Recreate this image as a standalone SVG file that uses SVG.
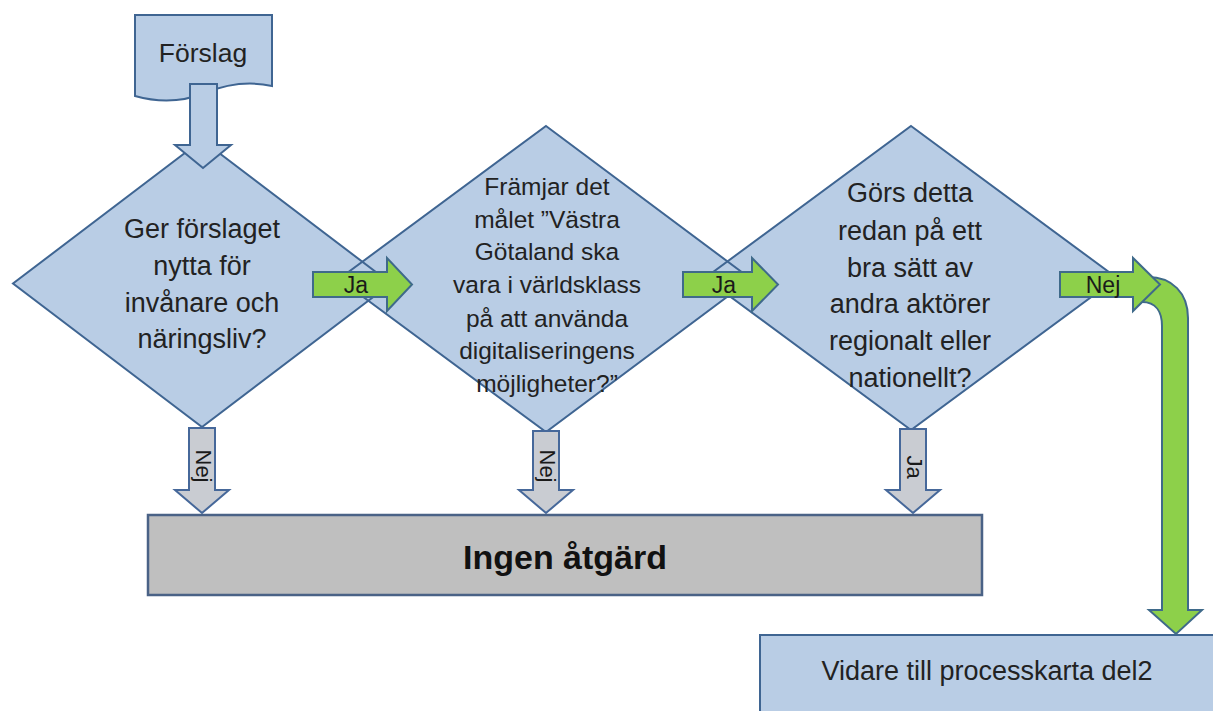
<svg xmlns="http://www.w3.org/2000/svg" xmlns:xlink="http://www.w3.org/1999/xlink" width="1213" height="711" viewBox="0 0 1213 711">
<style>
  .blue { fill: #B9CDE5; stroke: #3F6592; stroke-width: 2; }
  .fillonly { fill: #B9CDE5; stroke: none; }
  .outline { fill: none; stroke: #3F6592; stroke-width: 2; }
  .green { fill: #8DD04A; stroke: #3F6A8A; stroke-width: 2; }
  .grayarrow { fill: #C9CCD2; stroke: #46689A; stroke-width: 2; }
  .grayrect { fill: #BFBFBF; stroke: #4A6286; stroke-width: 2.5; }
  text { font-family: "Liberation Sans", Arial, sans-serif; fill: #222; }
  .q1 { font-size: 27px; text-anchor: middle; }
  .q2 { font-size: 24.5px; text-anchor: middle; }
  .lbl { font-size: 23px; text-anchor: middle; fill: #1a1a1a; }
</style>
<defs>
  <polygon id="d1" points="202,140 391,283.5 202,427 13,283.5"/>
  <polygon id="d2" points="546,126 751,279 546,432 339,279"/>
  <polygon id="d3" points="911,126 1117,278 911,430 705,278"/>
</defs>

<g id="node-forslag">
  <path class="blue" d="M135,15 H272 V86 C245,80 222,86 205,93 C185,101 160,103 135,96 Z"/>
  <text x="203" y="62" style="font-size:26.5px;text-anchor:middle">Förslag</text>
</g>

<g id="node-q1">
  <use xlink:href="#d1" class="fillonly"/>
</g>
<g id="node-q2">
  <use xlink:href="#d2" class="fillonly"/>
</g>
<g id="node-q3">
  <use xlink:href="#d3" class="fillonly"/>
</g>
<g id="diamond-outlines">
  <use xlink:href="#d1" class="outline"/>
  <use xlink:href="#d2" class="outline"/>
  <use xlink:href="#d3" class="outline"/>
</g>

<g id="node-q1-text">
  <text class="q1" x="202" y="238">Ger förslaget</text>
  <text class="q1" x="202" y="275">nytta för</text>
  <text class="q1" x="202" y="312">invånare och</text>
  <text class="q1" x="202" y="348">näringsliv?</text>
</g>
<g id="node-q2-text">
  <text class="q2" x="547" y="195">Främjar det</text>
  <text class="q2" x="547" y="228">målet ”Västra</text>
  <text class="q2" x="547" y="260">Götaland ska</text>
  <text class="q2" x="547" y="293">vara i världsklass</text>
  <text class="q2" x="547" y="327">på att använda</text>
  <text class="q2" x="547" y="359">digitaliseringens</text>
  <text class="q2" x="547" y="392">möjligheter?”</text>
</g>
<g id="node-q3-text">
  <text class="q1" x="910" y="202">Görs detta</text>
  <text class="q1" x="910" y="240">redan på ett</text>
  <text class="q1" x="910" y="277">bra sätt av</text>
  <text class="q1" x="910" y="313">andra aktörer</text>
  <text class="q1" x="910" y="350">regionalt eller</text>
  <text class="q1" x="910" y="387">nationellt?</text>
</g>

<g id="node-ingen">
  <rect class="grayrect" x="148" y="515" width="834" height="80"/>
  <text x="565" y="569" style="font-size:34px;font-weight:bold;text-anchor:middle;fill:#111">Ingen åtgärd</text>
</g>

<g id="node-vidare">
  <rect class="blue" x="760" y="635" width="470" height="90"/>
  <text x="987" y="680" style="font-size:27px;text-anchor:middle">Vidare till processkarta del2</text>
</g>

<g id="connectors">
  <!-- Förslag down arrow -->
  <path class="blue" d="M190,84 H217 V145 H231 L203,168 L175,145 H190 Z"/>
  <!-- gray down arrows -->
  <path class="grayarrow" d="M189,428 H215 V490 H229 L202,513 L175,490 H189 Z"/>
  <path class="grayarrow" d="M533,431 H559 V490 H573 L546,513 L519,490 H533 Z"/>
  <path class="grayarrow" d="M900,429 H926 V490 H940 L913,513 L886,490 H900 Z"/>
  <text class="lbl" transform="translate(196,466) rotate(90)" style="font-size:22px">Nej</text>
  <text class="lbl" transform="translate(540,466) rotate(90)" style="font-size:22px">Nej</text>
  <text class="lbl" transform="translate(907,467) rotate(90)" style="font-size:22px">Ja</text>
  <!-- curved green arrow to Vidare -->
  <path class="green" d="M1148,277 C1172,277 1188,293 1188,318 V610 H1202 L1176,634 L1149,610 H1162 V326 C1162,312 1156,302 1142,302 Z"/>
  <!-- green right arrows -->
  <path class="green" d="M313,272 H387 V258 L412,284.5 L387,311 V297 H313 Z"/>
  <text class="lbl" x="356" y="293">Ja</text>
  <path class="green" d="M683,272 H752 V258 L778,284.5 L752,311 V297 H683 Z"/>
  <text class="lbl" x="724" y="293">Ja</text>
  <path class="green" d="M1060,272 H1133 V258 L1160,284.5 L1133,311 V297 H1060 Z"/>
  <text class="lbl" x="1103" y="293">Nej</text>
</g>
</svg>
